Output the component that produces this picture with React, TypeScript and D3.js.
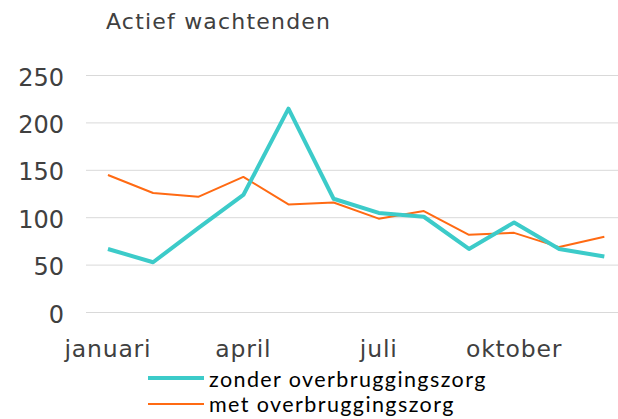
import React from 'react'
import * as d3 from 'd3'

// data
const months = [
  'januari', 'februari', 'maart', 'april', 'mei', 'juni',
  'juli', 'augustus', 'september', 'oktober', 'november', 'december',
]
const zonder = [67, 53, 89, 124, 215, 120, 105, 101, 67, 95, 67, 59]
const met = [145, 126, 122, 143, 114, 116, 99, 107, 82, 84, 69, 80]
const yTicks = [0, 50, 100, 150, 200, 250]
const shownMonths = ['januari', 'april', 'juli', 'oktober']

const W = 618
const H = 419

export default function App() {
  const x = d3.scalePoint<string>().domain(months).range([85.4, 626.9]).padding(0.5)
  const y = d3.scaleLinear().domain([0, 250]).range([312.5, 75.5])

  const line = d3
    .line<number>()
    .x((_, i) => x(months[i]) as number)
    .y((d) => y(d))

  const axisFont = "'DejaVu Sans', Verdana, sans-serif"

  return (
    <div style={{ position: 'absolute', left: 0, top: 0 }}>
      <svg width={W} height={H} style={{ display: 'block', background: '#fff' }}>
        <text
          x={106}
          y={29}
          fontFamily={axisFont}
          fontSize={22}
          letterSpacing={1.2}
          fill="#404040"
        >
          Actief wachtenden
        </text>

        {/* gridlines + y labels */}
        {yTicks.map((t) => (
          <g key={t}>
            <line x1={86} x2={W} y1={y(t)} y2={y(t)} stroke="#d9d9d9" strokeWidth={1} />
            <text
              x={64}
              y={y(t) + 10}
              textAnchor="end"
              fontFamily={axisFont}
              fontSize={24}
              fill="#404040"
            >
              {t}
            </text>
          </g>
        ))}

        {/* month labels */}
        {shownMonths.map((m) => (
          <text
            key={m}
            x={x(m)}
            y={357}
            textAnchor="middle"
            fontFamily={axisFont}
            fontSize={23.5}
            letterSpacing={0.8}
            fill="#404040"
          >
            {m}
          </text>
        ))}

        <path d={line(met) || ''} fill="none" stroke="#ff6a13" strokeWidth={2} strokeLinejoin="round" />
        <path d={line(zonder) || ''} fill="none" stroke="#3ccbc9" strokeWidth={4} strokeLinejoin="round" />

        {/* legend */}
        <line x1={148} x2={204} y1={378} y2={378} stroke="#3ccbc9" strokeWidth={4} />
        <text x={209} y={387} fontFamily="Lato, sans-serif" fontSize={21.5} letterSpacing={1.4} fill="#000">
          zonder overbruggingszorg
        </text>
        <line x1={148} x2={204} y1={404} y2={404} stroke="#ff6a13" strokeWidth={2} />
        <text x={209} y={412} fontFamily="Lato, sans-serif" fontSize={21.5} letterSpacing={1.4} fill="#000">
          met overbruggingszorg
        </text>
      </svg>
    </div>
  )
}
